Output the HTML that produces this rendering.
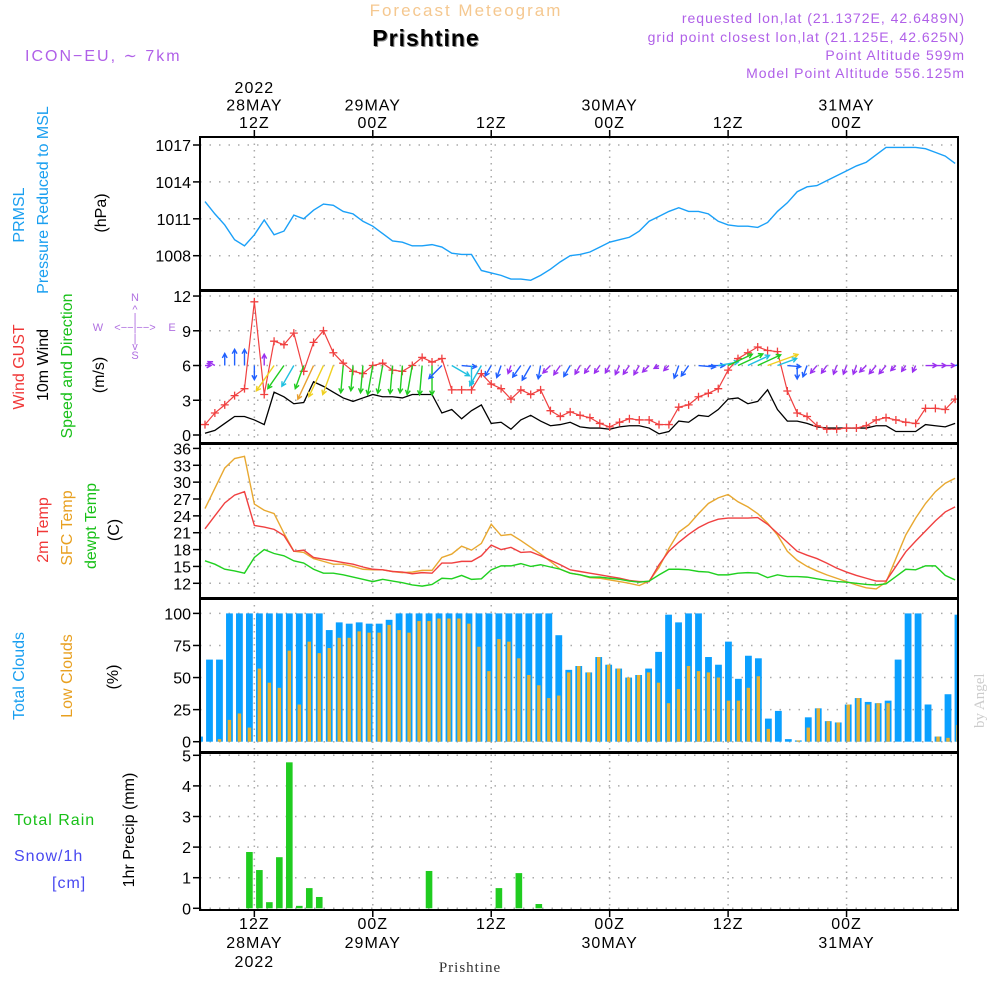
<!DOCTYPE html>
<html><head><meta charset="utf-8">
<style>
html,body{margin:0;padding:0;background:#fff;}
svg{display:block;font-family:"Liberation Sans",sans-serif;}
</style></head>
<body>
<svg id="chart" width="1000" height="1000" viewBox="0 0 1000 1000" xmlns="http://www.w3.org/2000/svg">
<rect width="1000" height="1000" fill="#fff"/>
<!-- header -->
<text x="466" y="16" text-anchor="middle" font-size="17" fill="#f5c890" letter-spacing="2">Forecast Meteogram</text>
<text x="427" y="47" text-anchor="middle" font-size="23" font-weight="bold" fill="#888" letter-spacing="1">Prishtine</text>
<text x="426" y="46" text-anchor="middle" font-size="23" font-weight="bold" fill="#000" letter-spacing="1">Prishtine</text>
<text x="25" y="61" font-size="16" fill="#b060e8" letter-spacing="2">ICON−EU, ∼ 7km</text>
<g font-size="14" fill="#b060e8" text-anchor="end" letter-spacing="1">
<text x="965" y="23">requested lon,lat (21.1372E, 42.6489N)</text>
<text x="965" y="42">grid point closest lon,lat (21.125E, 42.625N)</text>
<text x="965" y="60">Point Altitude 599m</text>
<text x="965" y="78">Model Point Altitude 556.125m</text>
</g>
<text transform="translate(984,728) rotate(-90)" font-size="15" fill="#ccc" font-family="Liberation Serif,serif">by Angel</text>
<!-- left labels -->
<g font-size="16" text-anchor="middle">
<text transform="translate(24,215) rotate(-90)" fill="#1a9ff0">PRMSL</text>
<text transform="translate(48,200) rotate(-90)" fill="#1a9ff0">Pressure Reduced to MSL</text>
<text transform="translate(106,213) rotate(-90)" fill="#000">(hPa)</text>
<text transform="translate(24,367) rotate(-90)" fill="#f03838">Wind GUST</text>
<text transform="translate(48,365) rotate(-90)" fill="#000">10m Wind</text>
<text transform="translate(72,366) rotate(-90)" fill="#18c018">Speed and Direction</text>
<text transform="translate(104,375) rotate(-90)" fill="#000">(m/s)</text>
<text transform="translate(48,530) rotate(-90)" fill="#f03838">2m Temp</text>
<text transform="translate(72,528) rotate(-90)" fill="#e8a020">SFC Temp</text>
<text transform="translate(96,526) rotate(-90)" fill="#18c018">dewpt Temp</text>
<text transform="translate(119,530) rotate(-90)" fill="#000">(C)</text>
<text transform="translate(24,676) rotate(-90)" fill="#1a9ff0">Total Clouds</text>
<text transform="translate(72,676) rotate(-90)" fill="#e8a020">Low Clouds</text>
<text transform="translate(118,677) rotate(-90)" fill="#000">(%)</text>
<text transform="translate(134,830) rotate(-90)" fill="#000">1hr Precip (mm)</text>
</g>
<g font-size="16">
<text x="14" y="825" fill="#18c018" letter-spacing="1">Total  Rain</text>
<text x="14" y="861" fill="#4848f0" letter-spacing="1">Snow/1h</text>
<text x="52" y="888" fill="#4848f0" letter-spacing="1">[cm]</text>
</g>
<g font-size="11" fill="#b070e0" text-anchor="middle">
<text x="135" y="301">N</text><text x="135" y="313">^</text><text x="135" y="321">|</text>
<text x="98" y="331">W</text><text x="135" y="331">&lt;−−|−−&gt;</text><text x="172" y="331">E</text>
<text x="135" y="342">|</text><text x="135" y="350">v</text><text x="135" y="359">S</text>
</g>
<g id="grid"></g>
<g id="marks"></g>
<g id="axes"></g>
</svg>
<script>
// ---- data (hourly, 28 May 07Z .. 31 May 11Z) ----
const timeTicks = [5, 17, 29, 41, 53, 65];
const topLabels = [["2022","28MAY","12Z"],["29MAY","00Z"],["12Z"],["30MAY","00Z"],["12Z"],["31MAY","00Z"]];
const bottomLabels = [["12Z","28MAY","2022"],["00Z","29MAY"],["12Z"],["00Z","30MAY"],["12Z"],["00Z","31MAY"]];
const pressure = [1012.4,1011.4,1010.5,1009.3,1008.8,1009.7,1010.9,1009.7,1010.0,1011.3,1011.0,1011.7,1012.2,1012.1,1011.6,1011.4,1010.8,1010.4,1009.8,1009.2,1009.1,1008.8,1008.8,1008.9,1008.7,1008.2,1008.1,1008.1,1006.8,1006.6,1006.4,1006.1,1006.1,1006.0,1006.4,1006.9,1007.5,1008.0,1008.1,1008.3,1008.7,1009.1,1009.3,1009.5,1010.0,1010.8,1011.2,1011.6,1011.9,1011.6,1011.6,1011.4,1010.8,1010.5,1010.4,1010.4,1010.3,1010.7,1011.6,1012.3,1013.2,1013.6,1013.7,1014.1,1014.5,1014.9,1015.3,1015.6,1016.2,1016.8,1016.8,1016.8,1016.8,1016.7,1016.4,1016.1,1015.5];
const pressureTicks = [1008, 1011, 1014, 1017];
const gust = [0.9,1.9,2.6,3.4,4.0,11.5,3.5,8.1,7.8,8.8,5.5,8.0,9.0,7.1,6.2,5.5,5.3,6.0,6.2,5.6,5.5,6.0,6.7,6.3,6.6,3.9,3.9,3.9,5.3,4.4,4.0,3.1,3.9,3.5,3.9,2.1,1.6,2.0,1.7,1.5,1.0,0.7,1.1,1.4,1.3,1.3,0.9,0.9,2.4,2.6,3.3,3.6,4.0,5.6,6.6,7.1,7.6,7.3,7.2,3.8,1.9,1.6,0.8,0.5,0.5,0.6,0.6,0.8,1.3,1.5,1.3,1.1,1.0,2.3,2.3,2.2,3.1];
const wind = [0.15,0.4,1.0,1.6,1.6,1.3,0.9,3.7,3.3,2.7,2.8,4.6,4.2,3.7,3.2,2.9,3.2,3.5,3.3,3.3,3.2,3.5,3.5,3.5,1.9,2.2,1.4,2.1,2.6,1.0,1.1,0.5,1.3,1.7,1.2,0.8,0.9,1.1,0.7,0.6,0.6,0.5,0.7,0.8,0.8,0.6,0.1,0.3,1.2,1.1,1.7,1.6,2.2,3.1,3.2,2.7,2.9,3.9,2.2,1.2,1.2,1.0,0.7,0.6,0.6,0.6,0.6,0.6,0.8,0.8,0.3,0.3,0.3,0.9,0.8,0.7,1.0];
// direction the arrow points to (degrees clockwise from north)
const windDir = [90,300,0,0,0,180,0,215,215,210,200,205,205,200,185,185,185,190,190,185,185,190,185,180,225,120,95,180,210,210,200,200,215,210,190,225,215,210,210,215,215,210,205,215,210,225,240,225,200,215,95,90,80,65,65,65,65,70,70,95,180,200,220,215,200,200,200,225,220,220,225,215,205,90,90,90,80];
const windTicks = [0, 3, 6, 9, 12];
const t2m = [21.7,24.0,26.3,27.7,28.3,22.3,22.0,21.6,20.5,17.7,17.9,16.6,16.3,16.0,15.7,15.4,14.9,14.5,14.4,14.1,14.0,13.7,13.9,13.8,15.6,15.6,15.9,15.9,16.9,18.8,18.0,18.4,17.5,17.6,16.9,16.1,15.3,14.4,14.1,13.8,13.5,13.2,12.9,12.5,12.3,12.3,15.3,17.7,19.3,20.7,21.9,22.8,23.4,23.6,23.6,23.6,23.7,22.5,20.9,19.3,17.7,17.0,16.4,15.6,14.7,14.0,13.4,12.9,12.4,12.4,15.0,17.6,19.5,21.3,23.1,24.7,25.6];
const tsfc = [25.3,28.9,32.5,34.2,34.6,26.1,25.0,24.4,20.9,17.7,17.5,16.4,15.9,15.4,15.4,15.0,14.5,14.4,14.4,14.1,13.9,14.0,14.3,14.3,16.6,17.2,18.6,17.9,19.1,22.5,20.5,20.7,19.6,18.4,17.2,15.9,14.5,13.8,13.5,13.0,12.9,12.6,12.3,12.0,11.6,12.4,14.8,18.2,21.1,22.4,24.4,26.2,27.2,27.8,26.5,25.6,24.4,22.7,20.6,17.7,16.1,15.0,14.2,13.5,12.9,12.3,11.7,11.2,11.0,12.2,16.4,20.6,23.6,26.2,28.3,29.8,30.7];
const dewpt = [16.0,15.4,14.5,14.2,13.8,16.6,18.0,17.3,16.9,16.0,15.6,14.5,13.8,13.8,13.5,13.1,12.7,12.3,12.7,12.4,12.1,11.7,11.5,11.8,12.9,12.8,13.4,12.7,12.8,14.4,15.1,15.1,15.5,15.0,15.3,14.9,14.5,13.8,13.5,13.1,13.1,12.9,12.7,12.4,12.2,12.4,13.5,14.5,14.5,14.4,14.1,14.0,13.5,13.5,13.8,13.9,13.8,13.0,13.5,13.2,13.2,13.1,12.8,12.5,12.3,12.2,12.0,11.8,11.7,11.9,13.2,14.5,14.4,15.1,15.1,13.4,12.6];
const tempTicks = [12,15,18,21,24,27,30,33,36];
const totalClouds = [4,64,64,100,100,100,100,100,100,100,100,100,100,87,93,92,93,92,92,95,100,100,100,100,100,100,100,100,100,100,100,100,100,100,100,100,83,56,59,54,66,60,57,50,52,57,70,99,93,100,100,66,60,78,49,67,65,18,24,2,1,19,26,16,15,29,34,31,30,32,64,100,100,29,4,37,99];
const lowClouds = [0,0,2,17,22,11,57,46,42,71,29,78,69,73,81,81,86,85,85,91,87,85,94,94,96,96,96,92,74,55,80,78,65,52,44,34,36,54,59,54,66,60,57,50,52,54,46,30,41,59,55,54,50,32,32,42,51,10,0,0,1,11,26,16,15,29,34,29,30,30,0,0,0,0,4,3,13];
const cloudTicks = [0,25,50,75,100];
const precip = [0,0,0,0,0,1.84,1.25,0.2,1.67,4.77,0.08,0.66,0.37,0,0,0,0,0,0,0,0,0,0,1.22,0,0,0,0,0,0,0.66,0,1.15,0,0.14,0,0,0,0,0,0,0,0,0,0,0,0,0,0,0,0,0,0,0,0,0,0,0,0,0,0,0,0,0,0,0,0,0,0,0,0,0,0,0,0,0,0];
const precipTicks = [0,1,2,3,4,5];

// ---- scales ----
const L = 200, R = 958;
const xH = i => 205 + 9.87 * i;        // hourly line points
const xB = k => 199.5 + 9.98 * k;      // hourly bars
const yP = v => 145 + (1017 - v) * 12.3;
const yW = v => 435 - v * 11.58;
const yT = v => 583.3 - (v - 12) * 5.62;
const yC = v => 741.7 - v * 1.283;
const yR = v => 908.3 - v * 30.6;
const panels = [[137,290],[291,443],[444,598],[599,752],[753,910]];
const NS = 'http://www.w3.org/2000/svg';
function mk(tag, attrs, parent){ const e=document.createElementNS(NS,tag); for(const k in attrs) e.setAttribute(k,attrs[k]); parent.appendChild(e); return e; }
const grid = document.getElementById('grid'), marks = document.getElementById('marks'), axes = document.getElementById('axes');

// clip
const defs = mk('defs',{},document.getElementById('chart'));
const cp = mk('clipPath',{id:'plotclip'},defs);
mk('rect',{x:L,y:137,width:R-L,height:773},cp);
marks.setAttribute('clip-path','url(#plotclip)');

// vertical grid
timeTicks.forEach(t => {
  const g = mk('line',{x1:xH(t),x2:xH(t),y1:137,y2:910,stroke:'#aaa','stroke-width':1.5,'stroke-dasharray':'1.5,5'},grid);
  
  
});
function hgrid(ticks, fy, name, fmt){
  ticks.forEach(v => {
    const y = fy(v);
    const g = mk('line',{x1:L,x2:R,y1:y,y2:y,stroke:'#aaa','stroke-width':1.5,'stroke-dasharray':'1.5,8'},grid);
    
    
    const tk = mk('line',{x1:L-7,x2:L,y1:y,y2:y,stroke:'#000','stroke-width':1.5},axes);
    
    
    const tx = mk('text',{x:L-9,y:y+6,'text-anchor':'end','font-size':16,fill:'#000'},axes);
    tx.textContent = fmt ? fmt(v) : v;
    
    
  });
}
hgrid(pressureTicks, yP, 'pressure');
hgrid(windTicks, yW, 'wind');
hgrid(tempTicks, yT, 'temp');
hgrid(cloudTicks, yC, 'cloud');
hgrid(precipTicks, yR, 'precip');

function line(data, fx, fy, color, name, w){
  const p = mk('polyline',{points:data.map((v,i)=>fx(i)+','+fy(v)).join(' '),fill:'none',stroke:color,'stroke-width':w||1.3},marks);
  
  
  return p;
}
// pressure
line(pressure, xH, yP, '#1aa0f8', 'pressure-line', 1.4);
// wind
line(wind, xH, yW, '#000', 'wind-speed-line', 1.3);
line(gust, xH, yW, '#f04040', 'wind-gust-line', 1.2);
gust.forEach((v,i) => {
  const x=xH(i), y=yW(v);
  const m = mk('path',{d:`M${x-4},${y}H${x+4}M${x},${y-4}V${y+4}`,stroke:'#f04040','stroke-width':1.3},marks);
  
  
});
function windColor(s){ if(s<1) return '#9b30f0'; if(s<2) return '#2060ff'; if(s<2.8) return '#20c0e0'; if(s<3.6) return '#20cc20'; if(s<4.3) return '#f0d020'; return '#e8a030'; }
wind.forEach((s,i) => {
  const a = windDir[i]*Math.PI/180;
  const len = 5 + s*7;
  const x0 = xH(i), y0 = yW(6);
  const x1 = x0 + Math.sin(a)*len, y1 = y0 - Math.cos(a)*len;
  const h = 5, ba = Math.atan2(y1-y0, x1-x0);
  const d = `M${x0},${y0}L${x1},${y1}M${x1-h*Math.cos(ba-0.5)},${y1-h*Math.sin(ba-0.5)}L${x1},${y1}L${x1-h*Math.cos(ba+0.5)},${y1-h*Math.sin(ba+0.5)}`;
  const ar = mk('path',{d:d,stroke:windColor(s),'stroke-width':1.4,fill:'none'},marks);
  
  
});
// temperatures
line(tsfc, xH, yT, '#e8a830', 'sfc-temp-line', 1.4);
line(t2m, xH, yT, '#f04040', 't2m-line', 1.4);
line(dewpt, xH, yT, '#20d020', 'dewpt-line', 1.4);
// clouds
totalClouds.forEach((v,k) => {
  const b = mk('rect',{x:xB(k)-3.4,y:yC(v),width:6.8,height:yC(0)-yC(v),fill:'#0aa0ff'},marks);
  
  
});
lowClouds.forEach((v,k) => {
  const b = mk('rect',{x:xB(k)-1.7,y:yC(v),width:3.4,height:yC(0)-yC(v),fill:'#e8b030'},marks);
  
  
});
// precip
precip.forEach((v,k) => {
  if(v<=0) return;
  const b = mk('rect',{x:xB(k)-3.3,y:yR(v),width:6.6,height:yR(0)-yR(v),fill:'#20cc20'},marks);
  
  
});
// panel frames
panels.forEach(([t,b]) => {
  const r = mk('rect',{x:L,y:t,width:R-L,height:b-t,fill:'none',stroke:'#000','stroke-width':2},axes);
  
  
});
// time labels
timeTicks.forEach((t,j) => {
  const x = xH(t);
  const tk = mk('line',{x1:x,x2:x,y1:130,y2:137,stroke:'#000','stroke-width':1.5},axes);
  
  
  const bt = mk('line',{x1:x,x2:x,y1:910,y2:917,stroke:'#000','stroke-width':1.5},axes);
  
  
  const lines = topLabels[j];
  lines.forEach((s,n) => {
    const tx = mk('text',{x:x,y:128-(lines.length-1-n)*17.5,'text-anchor':'middle','font-size':16,fill:'#000','letter-spacing':1},axes);
    tx.textContent = s;
    
    
  });
  bottomLabels[j].forEach((s,n) => {
    const tx = mk('text',{x:x,y:929+n*19,'text-anchor':'middle','font-size':16,fill:'#000','letter-spacing':1},axes);
    tx.textContent = s;
    
    
  });
});
const loc = mk('text',{x:470,y:972,'text-anchor':'middle','font-size':15,fill:'#333','font-family':'Liberation Serif,serif','letter-spacing':1},axes);
loc.textContent = 'Prishtine';


</script>
</body></html>
